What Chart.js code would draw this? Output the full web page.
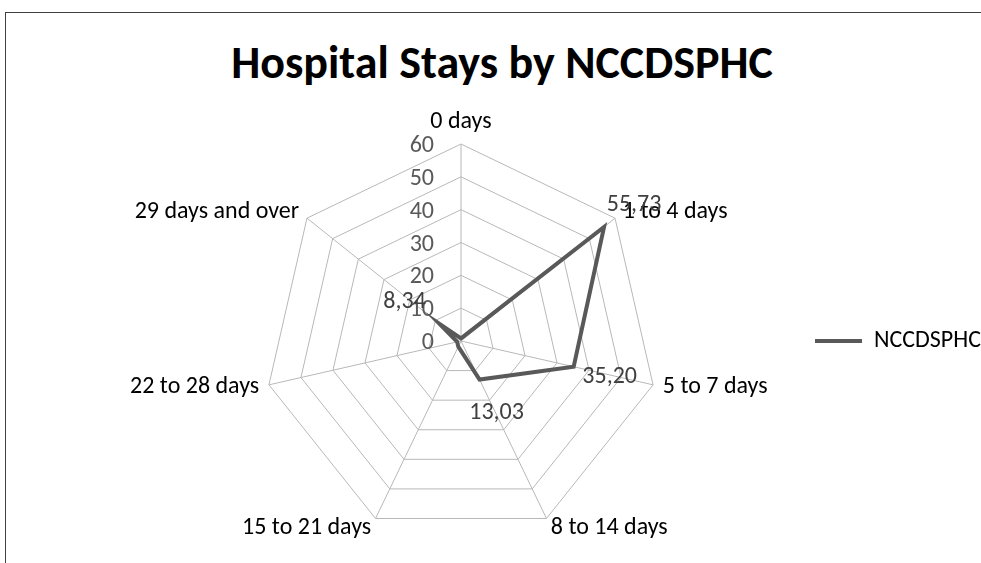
<!DOCTYPE html>
<html>
<head>
<meta charset="utf-8">
<script src="https://cdn.jsdelivr.net/npm/chart.js@4"></script>
<style>
  body { margin: 0; background: #fff; overflow: hidden; }
  #frame { position: absolute; left: 5px; top: 12px; width: 980px; height: 560px;
           border-left: 1px solid #404040; border-top: 1px solid #404040; }
  #title { position: absolute; left: 202px; width: 600px; top: 39px; margin: 0;
           text-align: center; font: bold 46px Carlito, Lato, sans-serif; line-height: 46px; color: #000; }
  canvas { position: absolute; left: 0; top: 0; }
</style>
</head>
<body>
<div id="frame"></div>
<h1 id="title">Hospital Stays by NCCDSPHC</h1>
<canvas id="chart" width="981" height="563"></canvas>
<script>
const categories = ["0 days", "1 to 4 days", "5 to 7 days", "8 to 14 days",
                    "15 to 21 days", "22 to 28 days", "29 days and over"];
const seriesName = "NCCDSPHC";
const stays = [0.8, 55.73, 35.20, 13.03, 1.9, 1.2, 8.34];
const labelledPoints = [1, 2, 3, 6];
const tickValues = [0, 10, 20, 30, 40, 50, 60];

const FONT = "Carlito, Lato, sans-serif";
// where each value label sits relative to its point
const labelOffsets = { 1: [30, -22], 2: [36, 10], 3: [17, 33], 6: [-35, -22] };

const radarText = {
    id: "radarText",
    afterDatasetsDraw(chart) {
        const ctx = chart.ctx;
        const r = chart.scales.r;
        ctx.save();
        ctx.font = `24px ${FONT}`;

        // scale numbers, left of the vertical spoke
        ctx.fillStyle = "#595959";
        ctx.textAlign = "right";
        ctx.textBaseline = "middle";
        r.ticks.forEach(t => {
            ctx.fillText(t.label, r.xCenter - 27, r.yCenter - r.getDistanceFromCenterForValue(t.value) + 2);
        });

        // category names outside the polygon
        ctx.fillStyle = "#000";
        categories.forEach((c, i) => {
            const p = r.getPointPosition(i, r.drawingArea + 10);
            ctx.textAlign = p.x > r.xCenter + 5 ? "left" : (p.x < r.xCenter - 5 ? "right" : "center");
            ctx.textBaseline = ctx.textAlign === "center" ? "bottom" : "middle";
            ctx.fillText(c, p.x, p.y);
        });

        // value labels
        ctx.fillStyle = "#404040";
        ctx.textAlign = "center";
        ctx.textBaseline = "middle";
        const pts = chart.getDatasetMeta(0).data;
        labelledPoints.forEach(i => {
            const [dx, dy] = labelOffsets[i];
            ctx.fillText(stays[i].toFixed(2).replace(".", ","), pts[i].x + dx, pts[i].y + dy);
        });
        ctx.restore();
    }
};

new Chart(document.getElementById("chart"), {
    type: "radar",
    data: {
        labels: categories,
        datasets: [{
            label: seriesName,
            data: stays,
            borderColor: "#595959",
            backgroundColor: "#595959",
            borderWidth: 4,
            pointRadius: 0,
            fill: false
        }]
    },
    options: {
        responsive: false,
        animation: false,
        layout: { padding: { top: 144, bottom: 25, left: 109, right: -10 } },
        plugins: {
            legend: {
                position: "right",
                labels: {
                    usePointStyle: true,
                    pointStyle: "line",
                    pointStyleWidth: 47,
                    padding: 0,
                    color: "#000",
                    font: { family: FONT, size: 24 }
                }
            },
            tooltip: { enabled: false }
        },
        scales: {
            r: {
                min: tickValues[0],
                max: tickValues[tickValues.length - 1],
                ticks: { stepSize: tickValues[1] - tickValues[0], display: false },
                grid: { color: "#b8b8b8", lineWidth: 1 },
                angleLines: { color: "#b8b8b8", lineWidth: 1 },
                pointLabels: { display: false }
            }
        }
    },
    plugins: [radarText]
});
</script>
</body>
</html>
